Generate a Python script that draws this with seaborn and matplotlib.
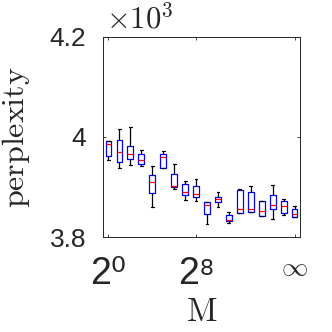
import numpy as np
import pandas as pd
import matplotlib
matplotlib.use("Agg")
import matplotlib.pyplot as plt
import seaborn as sns

sns.set_theme(style="ticks")
plt.rcParams['font.family'] = ['Liberation Sans', 'DejaVu Sans']
plt.rcParams['mathtext.fontset'] = 'cm'

# box stats per M (2^0 ... 2^16, inf), perplexity values
positions = list(range(18))
whisk_lo = [3954, 3937, 3944, 3942, 3861, 3937, 3897, 3875, 3872, 3827, 3860, 3829, 3849, 3851, 3843, 3837, 3844, 3841]
q1 = [3961, 3950, 3955, 3946, 3889, 3937, 3899, 3884, 3881, 3846, 3871, 3832, 3849, 3851, 3843, 3856, 3849, 3841]
med = [3985, 3969, 3966, 3953, 3910, 3959, 3901, 3891, 3887, 3865, 3877, 3835, 3857, 3857, 3853, 3865, 3863, 3847]
q3 = [3991, 3994, 3981, 3965, 3923, 3965, 3925, 3905, 3901, 3871, 3881, 3845, 3895, 3890, 3872, 3885, 3873, 3856]
whisk_hi = [3991, 4015, 4019, 3973, 3941, 3971, 3946, 3911, 3915, 3871, 3891, 3851, 3897, 3901, 3872, 3904, 3876, 3863]

xtick_pos = [0, 8, 17]
xtick_labels = ['2\u2070', '2\u2078', r'$\infty$']

# five points per box -> quartiles land on q1/med/q3 exactly
rows = []
for i in positions:
    for v in (whisk_lo[i], q1[i], med[i], q3[i], whisk_hi[i]):
        rows.append({'M': i, 'perplexity': v})
df = pd.DataFrame(rows)

fig = plt.figure(figsize=(3.32, 3.32), dpi=100)
ax = fig.add_axes([0.31, 0.286, 0.594, 0.603])

sns.boxplot(data=df, x='M', y='perplexity', native_scale=True, fill=False,
            whis=np.inf, width=0.52, color='blue', linewidth=0.9,
            boxprops=dict(color='blue'),
            medianprops=dict(color='red'),
            whiskerprops=dict(color='black'),
            capprops=dict(color='black'), ax=ax)

ax.set_xlim(-0.5, 17.5)
ax.set_ylim(3800, 4200)
ax.set_yticks([3800, 4000, 4200])
ax.set_yticklabels(['3.8', '4', '4.2'])
ax.set_xticks(xtick_pos)
ax.set_xticklabels(xtick_labels)
ax.tick_params(direction='in', length=2.5, width=0.6, color='#262626',
               top=True, right=True)
ax.tick_params(axis='y', labelsize=19, pad=12)
ax.tick_params(axis='x', labelsize=27, pad=14)
ax.get_xticklabels()[2].set_fontsize(19)
for s in ax.spines.values():
    s.set_color('#262626')
    s.set_linewidth(0.7)

ax.set_xlabel(r'$\mathrm{M}$', fontsize=24, labelpad=3)
ax.set_ylabel(r'$\mathrm{perplexity}$', fontsize=23, labelpad=13)
ax.annotate(r'$\times10^3$', xy=(0, 1), xycoords='axes fraction',
            xytext=(2, 6.5), textcoords='offset points', fontsize=22,
            ha='left', va='baseline', color='#262626')

fig.savefig('out.png', dpi=100)
